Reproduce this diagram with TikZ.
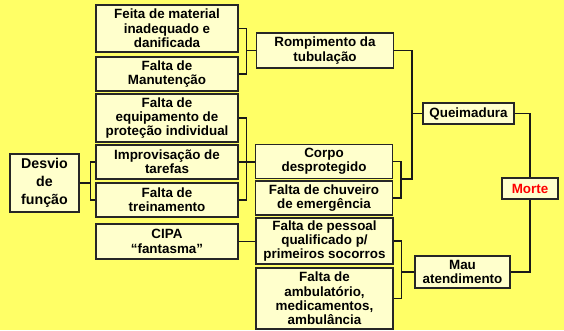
\documentclass[tikz,border=0pt]{standalone}
\usepackage{fontspec}
\setmainfont{Liberation Sans}
\definecolor{bg}{HTML}{FFFF66}
\definecolor{boxfill}{HTML}{FFFFCC}
\definecolor{mred}{HTML}{FF0000}
\begin{document}
\begin{tikzpicture}[x=1pt,y=-1pt,
  box/.style={draw=black!85, line width=1.3pt, fill=boxfill, align=center, inner sep=0pt,
    font=\bfseries\fontsize{13.4}{14.3}\selectfont},
  conn/.style={line width=1.5pt, draw=black!90}]
\fill[bg] (0,0) rectangle (564,330);
\useasboundingbox (0,0) rectangle (564,330);
% left column
\node[box, minimum width=69pt, minimum height=58pt, font=\bfseries\fontsize{14.2}{18}\selectfont] (desvio) at (44.5,183) {Desvio\\de\\função};
\node[box, minimum width=142pt, minimum height=47pt] (feita) at (167,28.5) {Feita de material\\inadequado e\\danificada};
\node[box, minimum width=142pt, minimum height=34pt] (manut) at (167,74) {Falta de\\Manutenção};
\node[box, minimum width=142pt, minimum height=48pt] (epi) at (167,118) {Falta de\\equipamento de\\proteção individual};
\node[box, minimum width=142pt, minimum height=34pt] (improv) at (167,162) {Improvisação de\\tarefas};
\node[box, minimum width=142pt, minimum height=34pt] (trein) at (167,200) {Falta de\\treinamento};
\node[box, minimum width=142pt, minimum height=35pt] (cipa) at (167,241.5) {CIPA\\“fantasma”};
% middle column
\node[box, minimum width=137pt, minimum height=35pt] (romp) at (325,50.5) {Rompimento da\\tubulação};
\node[box, minimum width=137pt, minimum height=34pt] (corpo) at (324,161.5) {Corpo\\desprotegido};
\node[box, minimum width=137pt, minimum height=34pt] (chuv) at (324,198) {Falta de chuveiro\\de emergência};
\node[box, minimum width=137pt, minimum height=46pt] (pessoal) at (324.5,241) {Falta de pessoal\\qualificado p/\\primeiros socorros};
\node[box, minimum width=137pt, minimum height=61pt] (ambul) at (324.5,298.5) {Falta de\\ambulatório,\\medicamentos,\\ambulância};
% right
\node[box, minimum width=91pt, minimum height=21pt] (queim) at (468.5,113.5) {Queimadura};
\node[box, minimum width=95pt, minimum height=32pt] (mau) at (462.5,272) {Mau\\atendimento};
\node[box, minimum width=56pt, minimum height=21pt, text=mred] (morte) at (530,188.5) {Morte};
% connectors
\coordinate (jq) at (412,179);
\draw[conn] (improv.west) -- ++(-5,0) coordinate (b1) |- (trein.west);
\draw[conn] (desvio.east) -- (desvio.east -| b1);
\draw[conn] (feita.east) -- ++(8,0) coordinate (b2) |- (manut.east);
\draw[conn] (romp.west) -- (romp.west -| b2);
\draw[conn] (epi.east) -- ++(8,0) |- (trein.east);
\draw[conn] (improv.east) -- (corpo.west |- improv.east);
\draw[conn] (corpo.east) -- ++(8,0) coordinate (b3) |- (chuv.east);
\draw[conn] (romp.east) -| (jq) -- (jq -| b3);
\draw[conn] (queim.west) -- (queim.west -| jq);
\draw[conn] (queim.east) -| (morte.north);
\draw[conn] (morte.south) |- (mau.east);
\draw[conn] (pessoal.east) -- ++(8,0) coordinate (b4) |- (ambul.east);
\draw[conn] (mau.west) -- (mau.west -| b4);
\draw[conn] (cipa.east) -- (pessoal.west |- cipa.east);
\end{tikzpicture}
\end{document}
